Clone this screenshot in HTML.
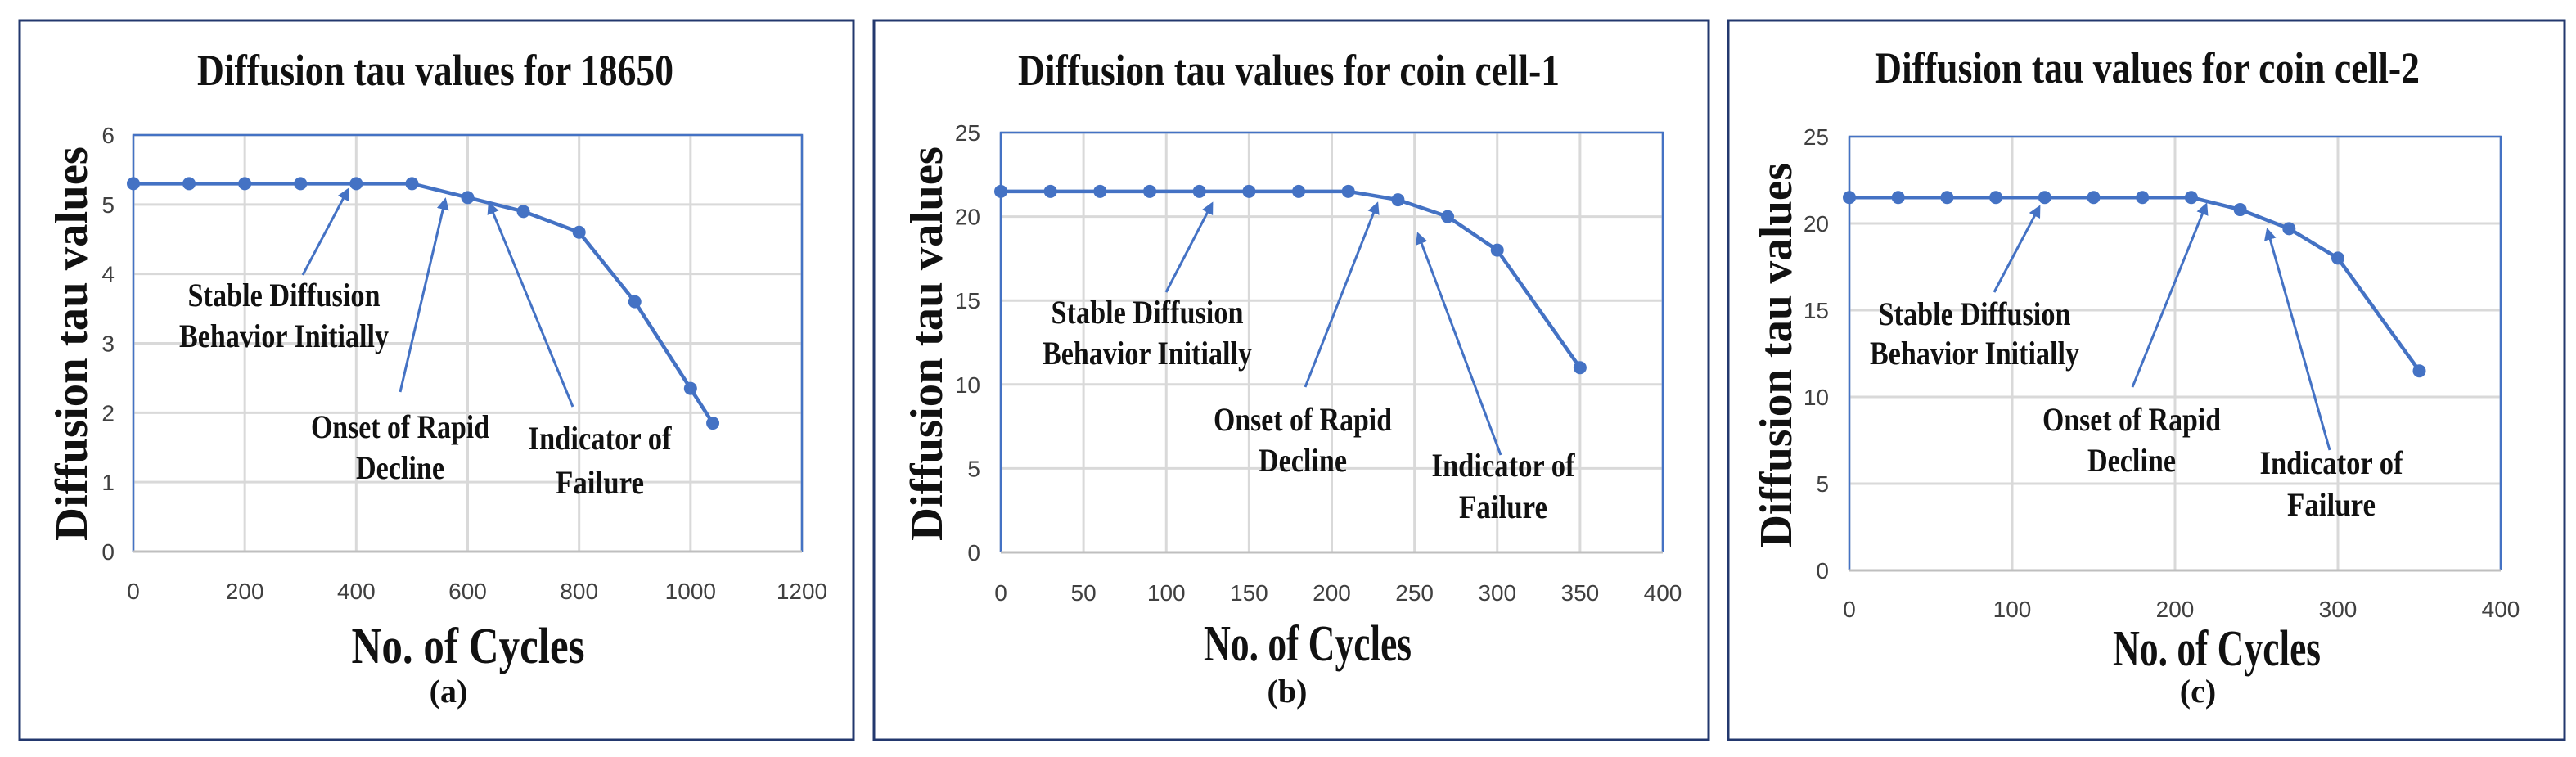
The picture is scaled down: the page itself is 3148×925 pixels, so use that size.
<!DOCTYPE html>
<html><head><meta charset="utf-8">
<style>
html,body{margin:0;padding:0;background:#fff;}
svg{display:block;}
text{font-family:"Liberation Serif",serif;}
.tick{font-family:"Liberation Sans",sans-serif;font-size:28px;fill:#404040;}
.ttl{font-weight:bold;fill:#111;}
</style></head>
<body>
<svg id="fig" width="3148" height="925" viewBox="0 0 3148 925" xmlns="http://www.w3.org/2000/svg"></svg>
<script>
// Panel (a) data
const aCycles = [0,100,200,300,400,500,600,700,800,900,1000,1040];
const aTau = [5.3,5.3,5.3,5.3,5.3,5.3,5.1,4.9,4.6,3.6,2.35,1.85];
const aXTicks = [0,200,400,600,800,1000,1200];
const aYTicks = [0,1,2,3,4,5,6];
// Panel (b) data
const bCycles = [0,30,60,90,120,150,180,210,240,270,300,350];
const bTau = [21.5,21.5,21.5,21.5,21.5,21.5,21.5,21.5,21,20,18,11];
const bXTicks = [0,50,100,150,200,250,300,350,400];
const bYTicks = [0,5,10,15,20,25];
// Panel (c) data
const cCycles = [0,30,60,90,120,150,180,210,240,270,300,350];
const cTau = [21.5,21.5,21.5,21.5,21.5,21.5,21.5,21.5,20.8,19.7,18,11.5];
const cXTicks = [0,100,200,300,400];
const cYTicks = [0,5,10,15,20,25];

const NS='http://www.w3.org/2000/svg';
const svg=document.getElementById('fig');
function mk(tag,attrs,parent,txt){const e=document.createElementNS(NS,tag);for(const k in attrs)e.setAttribute(k,attrs[k]);if(txt!==undefined)e.textContent=txt;(parent||svg).appendChild(e);return e;}

const panels=[
 {id:'a',title:'Diffusion tau values for 18650',tw:582,frame:[24,25,1043,904],plot:[163,165,980,674],tcx:532,tcy:104,
  xs:aCycles,ys:aTau,xt:aXTicks,yt:aYTicks,xmax:1200,ymax:6,ytcx:88,ytcy:420,ytw:482,
  xtx:572,xty:810,xtw:285,lab:'(a)',labx:548,laby:858,xly:732,ylr:140,
  ann:[{t:['Stable Diffusion','Behavior Initially'],x:347,y:[374,424],w:[235,256],ar:[370,336,425,232]},
       {t:['Onset of Rapid','Decline'],x:489,y:[535,585],w:[218,108],ar:[489,479,544,244]},
       {t:['Indicator of','Failure'],x:733,y:[549,603],w:[175,108],ar:[700,497,598,249]}]},
 {id:'b',title:'Diffusion tau values for coin cell-1',tw:662,frame:[1068,25,2088,904],plot:[1223,162,2032,675],tcx:1575,tcy:104,
  xs:bCycles,ys:bTau,xt:bXTicks,yt:bYTicks,xmax:400,ymax:25,ytcx:1133,ytcy:420,ytw:482,
  xtx:1598,xty:807,xtw:254,lab:'(b)',labx:1573,laby:858,xly:734,ylr:1198,
  ann:[{t:['Stable Diffusion','Behavior Initially'],x:1402,y:[395,445],w:[235,256],ar:[1425,357,1481,249]},
       {t:['Onset of Rapid','Decline'],x:1592,y:[526,576],w:[218,108],ar:[1595,473,1683,249]},
       {t:['Indicator of','Failure'],x:1837,y:[582,633],w:[175,108],ar:[1834,556,1733,286]}]},
 {id:'c',title:'Diffusion tau values for coin cell-2',tw:666,frame:[2112,25,3134,904],plot:[2260,167,3056,697],tcx:2624,tcy:101,
  xs:cCycles,ys:cTau,xt:cXTicks,yt:cYTicks,xmax:400,ymax:25,ytcx:2171,ytcy:434,ytw:470,
  xtx:2709,xty:813,xtw:254,lab:'(c)',labx:2686,laby:858,xly:754,ylr:2235,
  ann:[{t:['Stable Diffusion','Behavior Initially'],x:2413,y:[397,445],w:[235,256],ar:[2437,357,2492,253]},
       {t:['Onset of Rapid','Decline'],x:2605,y:[526,576],w:[218,108],ar:[2606,473,2696,250]},
       {t:['Indicator of','Failure'],x:2849,y:[579,630],w:[175,108],ar:[2847,550,2771,281]}]}
];

const defs=mk('defs',{});
const mkr=mk('marker',{id:'ah',viewBox:'0 0 10 10',refX:'8',refY:'5',markerWidth:'5',markerHeight:'5',orient:'auto'},defs);
mk('path',{d:'M0,0 L10,5 L0,10 z',fill:'#4472c4'},mkr);

panels.forEach(p=>{
 const g=mk('g',{});
 
 
 const [fx1,fy1,fx2,fy2]=p.frame;
 const fr=mk('rect',{x:fx1,y:fy1,width:fx2-fx1,height:fy2-fy1,fill:'none',stroke:'#23386e','stroke-width':3},g);
 
 
 const [px1,py1,px2,py2]=p.plot;
 const X=v=>px1+(v/p.xmax)*(px2-px1);
 const Y=v=>py2-(v/p.ymax)*(py2-py1);
 const t=mk('text',{x:p.tcx,y:p.tcy,'text-anchor':'middle','font-size':54,class:'ttl',textLength:p.tw,lengthAdjust:'spacingAndGlyphs'},g,p.title);
 
 
 p.yt.forEach(v=>{
  const l=mk('line',{x1:px1,x2:px2,y1:Y(v),y2:Y(v),stroke:'#d9d9d9','stroke-width':3},g);
  
  
  const tx=mk('text',{x:p.ylr,y:Y(v)+10,'text-anchor':'end',class:'tick'},g,String(v));
  
  
 });
 p.xt.forEach(v=>{
  const l=mk('line',{x1:X(v),x2:X(v),y1:py1,y2:py2,stroke:'#d9d9d9','stroke-width':3},g);
  
  
  const tx=mk('text',{x:X(v),y:p.xly,'text-anchor':'middle',class:'tick'},g,String(v));
  
  
 });
 const pb=mk('path',{d:`M${px1},${py2} L${px1},${py1} L${px2},${py1} L${px2},${py2}`,fill:'none',stroke:'#4472c4','stroke-width':2.5},g);
 
 
 const xa=mk('line',{x1:px1,x2:px2,y1:py2,y2:py2,stroke:'#bfbfbf','stroke-width':3},g);
 
 
 const pts=p.xs.map((x,i)=>X(x)+','+Y(p.ys[i])).join(' ');
 const pl=mk('polyline',{points:pts,fill:'none',stroke:'#4472c4','stroke-width':4.5,'stroke-linejoin':'round'},g);
 
 
 p.xs.forEach((x,i)=>{
  const c=mk('circle',{cx:X(x),cy:Y(p.ys[i]),r:8,fill:'#4472c4'},g);
  
  
 });
 p.ann.forEach(a=>{
  const ar=mk('line',{x1:a.ar[0],y1:a.ar[1],x2:a.ar[2],y2:a.ar[3],stroke:'#4472c4','stroke-width':3,'marker-end':'url(#ah)'},g);
  
  
  a.t.forEach((s,k)=>{
   const tt=mk('text',{x:a.x,y:a.y[k],'text-anchor':'middle','font-size':40,class:'ttl',textLength:a.w[k],lengthAdjust:'spacingAndGlyphs'},g,s);
   
   
  });
 });
 const yt=mk('text',{x:0,y:0,'text-anchor':'middle','font-size':56,class:'ttl',textLength:p.ytw,lengthAdjust:'spacingAndGlyphs',transform:`translate(${p.ytcx+18},${p.ytcy}) rotate(-90)`},g,'Diffusion  tau values');
 
 
 const xt=mk('text',{x:p.xtx,y:p.xty,'text-anchor':'middle','font-size':62,class:'ttl',textLength:p.xtw,lengthAdjust:'spacingAndGlyphs'},g,'No. of Cycles');
 
 
 const lb=mk('text',{x:p.labx,y:p.laby,'text-anchor':'middle','font-size':40,class:'ttl'},g,p.lab);
 
 
});
</script>
</body></html>
